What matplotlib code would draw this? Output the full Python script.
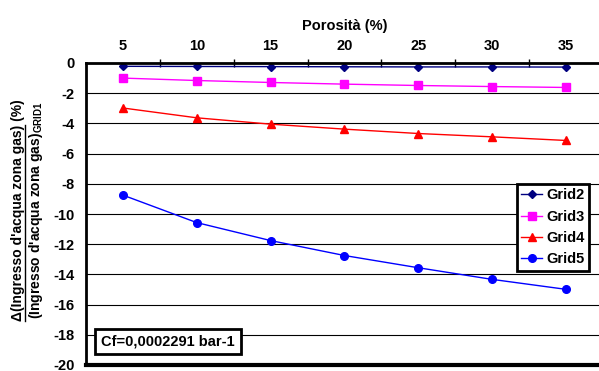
import matplotlib
matplotlib.use("Agg")
import matplotlib.pyplot as plt
from matplotlib.lines import Line2D

# ==============================
# Dati
# ==============================

porosita = [5, 10, 15, 20, 25, 30, 35]
grid2 = [-0.22, -0.23, -0.24, -0.25, -0.26, -0.26, -0.27]
grid3 = [-1.00, -1.16, -1.29, -1.40, -1.49, -1.56, -1.62]
grid4 = [-2.98, -3.63, -4.05, -4.38, -4.67, -4.89, -5.13]
grid5 = [-8.75, -10.57, -11.76, -12.75, -13.56, -14.33, -14.99]
yticks = list(range(0, -21, -2))

plt.rcParams["font.family"] = ["Liberation Sans", "DejaVu Sans"]
plt.rcParams["font.weight"] = "bold"
plt.rcParams["mathtext.fontset"] = "custom"
plt.rcParams["mathtext.bf"] = "Liberation Sans:bold"
plt.rcParams["mathtext.rm"] = "Liberation Sans:bold"

FS = 10.5
W, H = 599, 371
fig = plt.figure(figsize=(W / 100, H / 100), dpi=100)

# asse: sinistra 86 px, alto 63 px, basso 365 px, 14.77 px per unità
left, top, bottom = 86, 63, 365
right = left + 35 * 14.77
ax = fig.add_axes([left / W, 1 - bottom / H, (right - left) / W, (bottom - top) / H])

ax.plot(porosita, grid2, color="#000080", marker="D", markersize=4, lw=1, label="Grid2")
ax.plot(porosita, grid3, color="#FF00FF", marker="s", markersize=6, lw=1, label="Grid3")
ax.plot(porosita, grid4, color="#FF0000", marker="^", markersize=6, lw=1, label="Grid4")
ax.plot(porosita, grid5, color="#0000FF", marker="o", markersize=5.5, lw=1, label="Grid5")

ax.set_xlim(2.5, 37.5)
ax.set_ylim(-20, 0)
ax.set_yticks(yticks)
ax.set_yticklabels([str(v) for v in yticks], fontsize=FS, fontweight="bold")
ax.grid(axis="y", color="black", lw=0.8)
ax.set_axisbelow(True)

ax.xaxis.tick_top()
ax.xaxis.set_label_position("top")
ax.set_xticks(porosita)
ax.set_xticklabels([str(v) for v in porosita], fontsize=FS, fontweight="bold")
ax.tick_params(axis="x", which="major", length=0, pad=7)
ax.set_xticks([7.5, 12.5, 17.5, 22.5, 27.5, 32.5], minor=True)
ax.tick_params(axis="x", which="minor", direction="inout", length=6, width=1, top=True, bottom=False)
ax.tick_params(axis="y", length=0, pad=8)
ax.set_xlabel("Porosità (%)", fontsize=FS, fontweight="bold", labelpad=7)

ax.spines["top"].set_linewidth(2)
ax.spines["left"].set_linewidth(2)
ax.spines["bottom"].set_linewidth(3)
ax.spines["right"].set_visible(False)

leg = ax.legend(loc="upper right", bbox_to_anchor=(589 / W, 1 - 184 / H),
                bbox_transform=fig.transFigure, borderaxespad=0, fancybox=False,
                framealpha=1, edgecolor="black", prop={"size": FS, "weight": "bold"},
                handlelength=1.4, handletextpad=0.3, labelspacing=0.5, borderpad=0.3)
leg.get_frame().set_linewidth(2)

ax.text(168 / W, 1 - 341.5 / H, "Cf=0,0002291 bar-1", transform=fig.transFigure,
        ha="center", va="center", fontsize=FS, fontweight="bold",
        bbox=dict(boxstyle="square,pad=0.4", fc="white", ec="black", lw=2))

# ==============================
# Etichetta asse y (frazione)
# ==============================

YFS = 10
yc = 1 - 210 / H
riga1 = fig.text(22.5 / W, yc, "Δ(Ingresso d'acqua zona gas) (%)", rotation=90,
                 rotation_mode="anchor", ha="center", va="baseline", fontsize=YFS, fontweight="bold")
fig.canvas.draw()
bb1 = riga1.get_window_extent().transformed(fig.transFigure.inverted())
parte = fig.text(22.5 / W, bb1.y0, "Δ(Ingresso d'acqua zona gas)", rotation=90,
                 rotation_mode="anchor", ha="left", va="baseline", fontsize=YFS, fontweight="bold")
fig.canvas.draw()
bbp = parte.get_window_extent().transformed(fig.transFigure.inverted())
parte.remove()
fig.add_artist(Line2D([24.5 / W, 24.5 / W], [bbp.y0, bbp.y1], color="black", lw=1,
                      transform=fig.transFigure))
fig.text(40.5 / W, yc, r"(Ingresso d'acqua zona gas)$_{\mathbf{GRID1}}$", rotation=90,
         rotation_mode="anchor", ha="center", va="baseline", fontsize=YFS, fontweight="bold")

fig.savefig("out.png", dpi=100)
plt.close()
